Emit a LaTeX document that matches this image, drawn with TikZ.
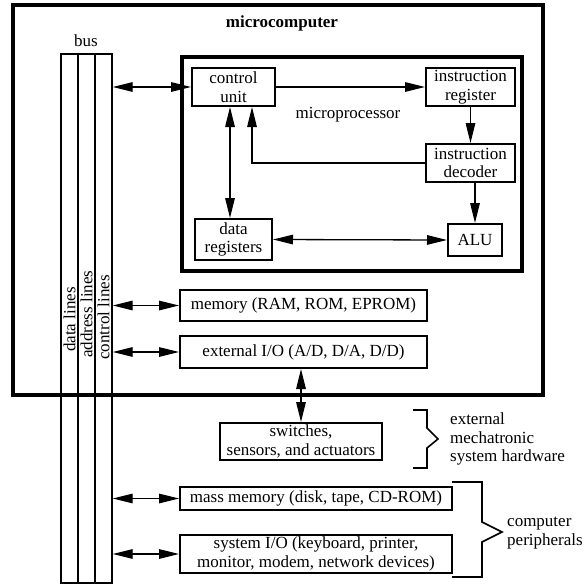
\documentclass[tikz,border=0pt]{standalone}
\usepackage{fontspec}
\setmainfont{Liberation Serif}
\usetikzlibrary{arrows.meta}

\begin{document}
\begin{tikzpicture}[x=1pt, y=-1pt,
  every node/.style={font=\fontsize{17}{18.5}\selectfont, inner sep=1pt},
  unitbox/.style={draw, line width=2pt, align=center},
  heavyframe/.style={draw, line width=4pt},
  busline/.style={draw, line width=1.3pt},
  link/.style={line width=1.3pt,
    {Triangle[length=20pt,width=9.5pt]}-{Triangle[length=20pt,width=9.5pt]}},
  feed/.style={line width=1.3pt, -{Triangle[length=20pt,width=9.5pt]}},
  hwbrace/.style={line width=1.6pt, line join=miter}
]

\useasboundingbox (0,0) rectangle (585,587);

% ---- (1) microcomputer + microprocessor frames ------------------
\draw[heavyframe] (13,5.3) rectangle (543,394.5);
\draw[heavyframe] (181.5,56.5) rectangle (521.5,270.5);
\node[font=\fontsize{17}{18.5}\selectfont\bfseries] (mctitle)
      at (282,23) {microcomputer};
\node (mptitle) at (348,115) {microprocessor};

% ---- (2) bus with its three lanes -------------------------------
\node[busline, minimum width=51, minimum height=529, inner sep=0pt]
      (bus) at (86.5,318.5) {};
\foreach \dx in {-8.5,8.5}{%
  \draw[busline] ([xshift=\dx]bus.north) -- ([xshift=\dx]bus.south);
}
\node (buslbl) at (86,41) {bus};
\node[rotate=90, anchor=west] (datalbl)  at (69.5,353)  {data lines};
\node[rotate=90, anchor=west] (addrlbl)  at (86.5,359)  {address lines};
\node[rotate=90, anchor=west] (ctrllbl)  at (103.5,361) {control lines};

% ---- (3) microprocessor units -----------------------------------
\node[unitbox, minimum width=83, minimum height=38] (cu)
      at (233.5,87) {control\\unit};
\node[unitbox, minimum width=89, minimum height=38] (ir)
      at (470.5,87) {instruction\\register};
\node[unitbox, minimum width=89, minimum height=38] (id)
      at (470.5,163) {instruction\\decoder};
\node[unitbox, minimum width=54, minimum height=32] (alu)
      at (475,240) {ALU};
\node[unitbox, minimum width=77, minimum height=41] (dr)
      at (233.5,239.5) {data\\registers};

% ---- (4) memory, I/O and peripherals ----------------------------
\node[unitbox, minimum width=247, minimum height=31] (mem)
      at (303.5,305.5) {memory (RAM, ROM, EPROM)};
\node[unitbox, minimum width=247, minimum height=32] (eio)
      at (303.5,352) {external I/O (A/D, D/A, D/D)};
\node[unitbox, minimum width=162, minimum height=37] (sw)
      at (301,441.5) {switches,\\sensors, and actuators};
\node[unitbox, minimum width=272, minimum height=23] (mass)
      at (316,498.5) {mass memory (disk, tape, CD-ROM)};
\node[unitbox, minimum width=272, minimum height=38] (sio)
      at (316,554) {system I/O (keyboard, printer,\\monitor, modem, network devices)};

% ---- (5) connectors ---------------------------------------------
\draw[link] (bus.east |- cu.west) -- (cu.west);
\draw[feed] (cu.east) -- (ir.west);
\draw[feed] (ir.south) -- (id.north);
\draw[feed] (id.south -| alu.north) -- (alu.north);
\draw[feed] (id.west) -| ([xshift=18.5]cu.south);
\draw[link] ([xshift=-3.5]cu.south) -- ([xshift=-3.5]dr.north);
\draw[link] (dr.east) -- (alu.west);
\draw[link] (bus.east |- mem.west) -- (mem.west);
\draw[link] (bus.east |- eio.west) -- (eio.west);
\draw[link] (sw.north) -- (sw.north |- eio.south);
\draw[link] (bus.east |- mass.west) -- (mass.west);
\draw[link] (bus.east |- sio.west) -- (sio.west);

% ---- (6) braces and group labels --------------------------------
\draw[hwbrace] (413,410) -- (427,410) -- (427,428) -- (438,439)
            -- (427,448) -- (427,468) -- (413,468);
\draw[hwbrace] (452,482) -- (482,482) -- (482,522) -- (502,532)
            -- (482,542) -- (482,577) -- (452,577);
\node[anchor=west, align=left] (hwlbl) at (449,439)
      {external\\mechatronic\\system hardware};
\node[anchor=west, align=left] (perlbl) at (506,533)
      {computer\\peripherals};

\end{tikzpicture}
\end{document}
